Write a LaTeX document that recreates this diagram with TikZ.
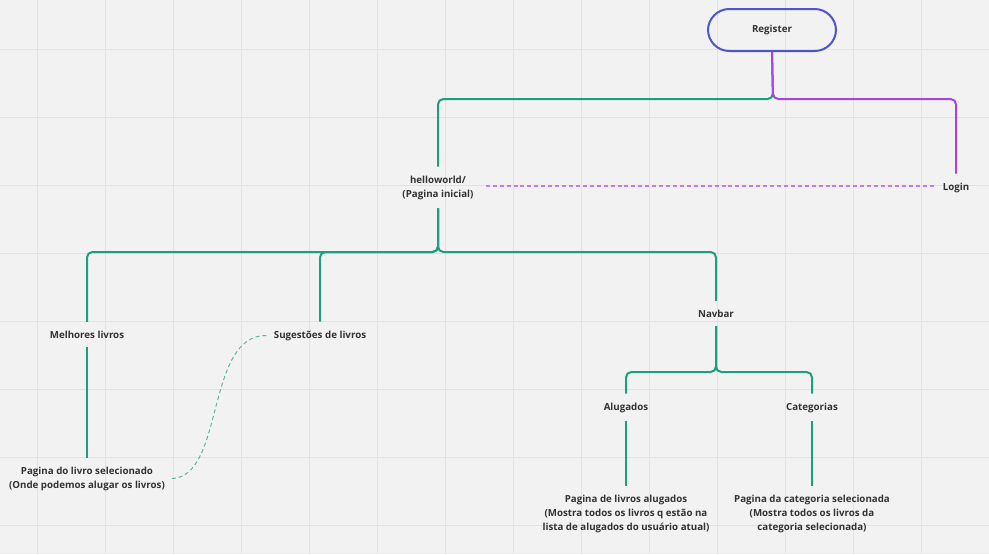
\documentclass[tikz,border=0pt]{standalone}
\usepackage{fontspec}
\setmainfont{Open Sans}
\usepackage{xcolor}
\usepackage{tikz}
\usetikzlibrary{positioning}
\definecolor{canvas}{HTML}{F2F2F2}
\definecolor{gridgray}{HTML}{E2E2E2}
\definecolor{ink}{HTML}{333333}
\definecolor{routegreen}{HTML}{1E9E80}
\definecolor{routepurple}{HTML}{A444E6}
\definecolor{linkpurple}{HTML}{C07CEE}
\definecolor{linkgreen}{HTML}{5CB89C}
\definecolor{regblue}{HTML}{4B55CF}
\tikzset{
  page/.style={font=\bfseries\fontsize{7.3}{10.5}\selectfont, text=ink, align=center, inner xsep=5pt, inner ysep=6.5pt},
  startbox/.style={page, draw=regblue, line width=1.5pt, rounded corners=16pt, minimum width=96pt, minimum height=31.5pt},
  tree/.style={draw=routegreen, line width=1.5pt, rounded corners=4pt},
  treeaccess/.style={draw=routepurple, line width=1.5pt, rounded corners=4pt},
  shortcut/.style={draw=linkpurple, line width=.9pt, dash pattern=on 3pt off 2.2pt},
  relate/.style={draw=linkgreen, line width=.75pt, dash pattern=on 3pt off 2.2pt}
}
\begin{document}
\begin{tikzpicture}[x=.75pt,y=-.75pt]
  % canvas and grid
  \fill[canvas] (0,0) rectangle (989,554);
  \useasboundingbox (0,0) rectangle (989,554);
  \foreach \x in {37,105,...,989}{\draw[gridgray,line width=.6pt] (\x,0)--(\x,554);}
  \foreach \y in {49,117,...,554}{\draw[gridgray,line width=.6pt] (0,\y)--(989,\y);}

  \node[startbox] (register) at (772,30) {Register};
  \node[page] (hello) at (438,187.5) {helloworld/\\(Pagina inicial)};
  \node[page] (login) at (956,187.5) {Login};
  \node[page] (melhores) at (87,334.5) {Melhores livros};
  \node[page] (sugestoes) at (320,335.5) {Sugestões de livros};
  \node[page] (navbar) at (716,313.5) {Navbar};
  \node[page] (livro) at (87,478.5) {Pagina do livro selecionado\\(Onde podemos alugar os livros)};
  \node[page] (alugados) at (626,407.5) {Alugados};
  \node[page] (categorias) at (812,407.5) {Categorias};
  \node[page] (pgalugados) at (626,513.5) {Pagina de livros alugados\\(Mostra todos os livros q estão na\\lista de alugados do usuário atual)};
  \node[page] (pgcategoria) at (812,513.5) {Pagina da categoria selecionada\\(Mostra todos os livros da\\categoria selecionada)};

  \coordinate (jreg) at (773,99);
  \coordinate (jhello) at (438,252);
  \coordinate (jnav) at (716,372);

  \draw[tree] (register.south) -- (jreg) -| (hello.north);
  \draw[treeaccess] (register.south) -- (jreg) -| (login.north);
  \draw[shortcut] ([xshift=4pt,yshift=1.1pt]hello.east) -- ([yshift=1.1pt]login.west);

  \draw[tree] (hello.south) -- (jhello) -| (melhores.north);
  \draw[tree] (hello.south) -- (jhello) -| (sugestoes.north);
  \draw[tree] (hello.south) -- (jhello) -| (navbar.north);
  \draw[tree] (melhores.south) -- (livro.north);
  \draw[relate] (livro.east) .. controls (225,477) and (205,334) .. (sugestoes.west);

  \draw[tree] (navbar.south) -- (jnav) -| (alugados.north);
  \draw[tree] (navbar.south) -- (jnav) -| (categorias.north);
  \draw[tree] (alugados.south) -- (pgalugados.north);
  \draw[tree] (categorias.south) -- (pgcategoria.north);
\end{tikzpicture}
\end{document}
